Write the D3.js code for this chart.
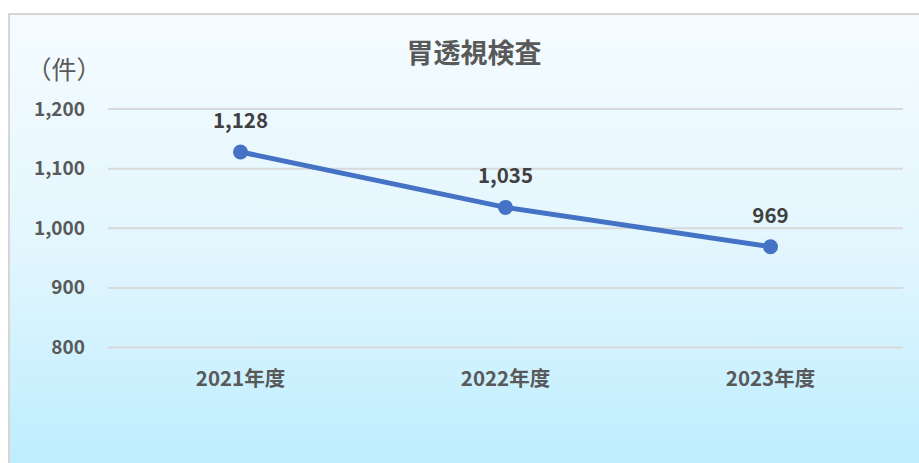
<!DOCTYPE html>
<html>
<head>
<meta charset="utf-8">
<script src="https://cdn.jsdelivr.net/npm/d3@7"></script>
<style>
  body { margin: 0; background: #fff; }
</style>
</head>
<body>
<div id="chart"></div>
<script>
var years = ['2021年度', '2022年度', '2023年度'];
var counts = [1128, 1035, 969];
var yTicks = [800, 900, 1000, 1100, 1200];

var w = 919, h = 463;
var margin = { left: 108, right: 16, top: 109, bottom: 115 };
var fontJP = "'Noto Sans CJK JP', 'Noto Sans', sans-serif";
var textColor = '#595959';

var svg = d3.select('#chart').append('svg')
  .attr('width', w)
  .attr('height', h);

var grad = svg.append('defs').append('linearGradient')
  .attr('id', 'bg')
  .attr('x1', 0).attr('y1', 0).attr('x2', 0).attr('y2', 1);
grad.append('stop').attr('offset', '0%').attr('stop-color', '#f5fcff');
grad.append('stop').attr('offset', '50%').attr('stop-color', '#e3f6fe');
grad.append('stop').attr('offset', '100%').attr('stop-color', '#bbedfe');

// chart area background and border
svg.append('rect')
  .attr('x', 9).attr('y', 14)
  .attr('width', w + 10).attr('height', h)
  .attr('fill', 'url(#bg)')
  .attr('stroke', '#d6d6d6')
  .attr('stroke-width', 2);

var x = d3.scaleBand()
  .domain(years)
  .range([margin.left, w - margin.right]);

var y = d3.scaleLinear()
  .domain([800, 1200])
  .range([347.5, margin.top]);

// gridlines
svg.append('g').selectAll('line')
  .data(yTicks)
  .enter().append('line')
  .attr('x1', margin.left)
  .attr('x2', w - margin.right)
  .attr('y1', function(d) { return y(d); })
  .attr('y2', function(d) { return y(d); })
  .attr('stroke', '#d9d9d9')
  .attr('stroke-width', 2);

// y axis labels
var yAxis = d3.axisLeft(y)
  .tickValues(yTicks)
  .tickSize(0)
  .tickPadding(0)
  .tickFormat(d3.format(','));
var yg = svg.append('g')
  .attr('transform', 'translate(85,0)')
  .call(yAxis);
yg.select('.domain').remove();
yg.selectAll('text')
  .attr('fill', textColor)
  .attr('font-family', fontJP)
  .attr('font-weight', 'bold')
  .attr('font-size', 19);

// x axis labels
var xAxis = d3.axisBottom(x).tickSize(0).tickPadding(0);
var xg = svg.append('g')
  .attr('transform', 'translate(0,371)')
  .call(xAxis);
xg.select('.domain').remove();
xg.selectAll('text')
  .attr('fill', textColor)
  .attr('font-family', fontJP)
  .attr('font-weight', 'bold')
  .attr('font-size', 20.5);

// unit label
svg.append('text')
  .attr('x', 64).attr('y', 79)
  .attr('text-anchor', 'middle')
  .attr('fill', textColor)
  .attr('font-family', fontJP)
  .attr('font-size', 25)
  .text('（件）');

// title
svg.append('text')
  .attr('x', 474).attr('y', 63)
  .attr('text-anchor', 'middle')
  .attr('fill', textColor)
  .attr('font-family', fontJP)
  .attr('font-weight', 'bold')
  .attr('font-size', 27)
  .text('胃透視検査');

var cx = function(d, i) { return x(years[i]) + x.bandwidth() / 2; };

var line = d3.line()
  .x(function(d, i) { return cx(d, i); })
  .y(function(d) { return y(d); });

svg.append('path')
  .datum(counts)
  .attr('d', line)
  .attr('fill', 'none')
  .attr('stroke', '#4472c4')
  .attr('stroke-width', 5)
  .attr('stroke-linecap', 'round');

svg.append('g').selectAll('circle')
  .data(counts)
  .enter().append('circle')
  .attr('cx', cx)
  .attr('cy', function(d) { return y(d); })
  .attr('r', 7.5)
  .attr('fill', '#4472c4');

// data labels
svg.append('g').selectAll('text')
  .data(counts)
  .enter().append('text')
  .attr('x', cx)
  .attr('y', function(d) { return y(d) - 24; })
  .attr('text-anchor', 'middle')
  .attr('fill', '#404040')
  .attr('font-family', fontJP)
  .attr('font-weight', 'bold')
  .attr('font-size', 20.5)
  .text(function(d) { return d3.format(',')(d); });
</script>
</body>
</html>
